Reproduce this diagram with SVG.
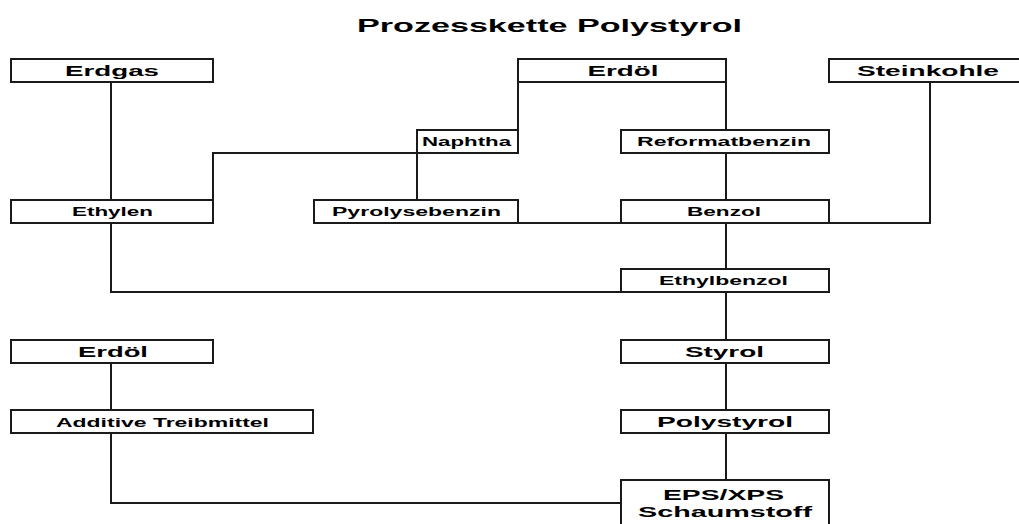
<svg xmlns="http://www.w3.org/2000/svg" width="1019" height="524" viewBox="0 0 1019 524">
<style>
rect{fill:#fff;stroke:#1a1a1a;stroke-width:2}
.c path{fill:none;stroke:#1a1a1a;stroke-width:2}
text{font-family:"Liberation Sans",Arial,sans-serif;font-weight:bold;fill:#000;text-anchor:middle}
.L{font-size:15.5px}
.S{font-size:13.5px}
.T{font-size:19px}
</style>
<rect x="-5" y="-5" width="1030" height="540" style="fill:#fff;stroke:none"/>
<text class="T" x="549.5" y="32" textLength="385" lengthAdjust="spacingAndGlyphs">Prozesskette Polystyrol</text>
<g class="c" id="connectors">
<path d="M111,82V200"/>
<path d="M213,200V153H417"/>
<path d="M417,153V200"/>
<path d="M518,82V130"/>
<path d="M726,82V130"/>
<path d="M726,153V200"/>
<path d="M518,223H621"/>
<path d="M930,82V223H829"/>
<path d="M726,223V269"/>
<path d="M111,223V292H621"/>
<path d="M726,292V340"/>
<path d="M726,363V410"/>
<path d="M726,433V480"/>
<path d="M111,363V410"/>
<path d="M111,433V503H621"/>
</g>
<g id="erdgas"><rect x="11" y="59" width="202" height="23"/><text class="L" x="112" y="76" textLength="94" lengthAdjust="spacingAndGlyphs">Erdgas</text></g>
<g id="erdoel"><rect x="518" y="59" width="208" height="23"/><text class="L" x="623" y="76" textLength="71" lengthAdjust="spacingAndGlyphs">Erdöl</text></g>
<g id="steinkohle"><rect x="829" y="59" width="200" height="23"/><text class="L" x="928" y="76" textLength="142" lengthAdjust="spacingAndGlyphs">Steinkohle</text></g>
<g id="naphtha"><rect x="417" y="130" width="101" height="23"/><text class="S" x="466.5" y="146" textLength="89" lengthAdjust="spacingAndGlyphs">Naphtha</text></g>
<g id="reformatbenzin"><rect x="621" y="130" width="208" height="23"/><text class="S" x="724" y="146" textLength="174" lengthAdjust="spacingAndGlyphs">Reformatbenzin</text></g>
<g id="ethylen"><rect x="11" y="200" width="202" height="23"/><text class="S" x="112.5" y="216" textLength="81" lengthAdjust="spacingAndGlyphs">Ethylen</text></g>
<g id="pyrolysebenzin"><rect x="314" y="200" width="204" height="23"/><text class="S" x="416.5" y="216" textLength="169" lengthAdjust="spacingAndGlyphs">Pyrolysebenzin</text></g>
<g id="benzol"><rect x="621" y="200" width="208" height="23"/><text class="S" x="724" y="216" textLength="74" lengthAdjust="spacingAndGlyphs">Benzol</text></g>
<g id="ethylbenzol"><rect x="621" y="269" width="208" height="23"/><text class="S" x="723.5" y="285" textLength="129" lengthAdjust="spacingAndGlyphs">Ethylbenzol</text></g>
<g id="erdoel2"><rect x="11" y="340" width="202" height="23"/><text class="L" x="113" y="357" textLength="70" lengthAdjust="spacingAndGlyphs">Erdöl</text></g>
<g id="styrol"><rect x="621" y="340" width="208" height="23"/><text class="L" x="724.5" y="357" textLength="79" lengthAdjust="spacingAndGlyphs">Styrol</text></g>
<g id="additive"><rect x="11" y="410" width="302" height="23"/><text class="S" x="162.5" y="427" textLength="213" lengthAdjust="spacingAndGlyphs">Additive Treibmittel</text></g>
<g id="polystyrol"><rect x="621" y="410" width="208" height="23"/><text class="L" x="725" y="427" textLength="136" lengthAdjust="spacingAndGlyphs">Polystyrol</text></g>
<g id="eps"><rect x="621" y="480" width="208" height="60"/><text class="L" x="723.5" y="500" textLength="121" lengthAdjust="spacingAndGlyphs">EPS/XPS</text><text class="L" x="725" y="517" textLength="174" lengthAdjust="spacingAndGlyphs">Schaumstoff</text></g>
</svg>
